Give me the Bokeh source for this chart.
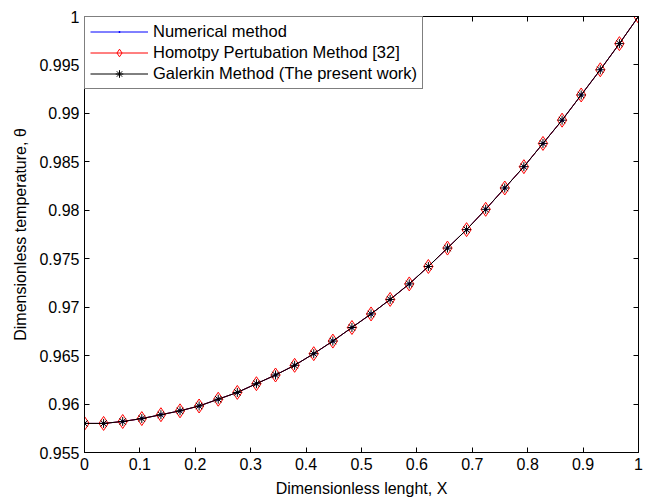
from bokeh.plotting import figure
from bokeh.models import Range1d, FixedTicker, LinearAxis, CustomJSTickFormatter
from bokeh.embed import file_html
from bokeh.resources import INLINE

# Data (x = i/29, 30 points)
x = [i / 29 for i in range(30)]
numerical = [0.9580, 0.9580, 0.9582, 0.9585, 0.9589, 0.9593, 0.9598, 0.9605, 0.9612, 0.9621,
             0.9630, 0.9640, 0.9652, 0.9665, 0.9679, 0.9693, 0.9708, 0.9724, 0.9742, 0.9761,
             0.9780, 0.9801, 0.9823, 0.9845, 0.9869, 0.9893, 0.9919, 0.9945, 0.9972, 1.0000]
hpm = [0.9580, 0.9580, 0.9582, 0.9585, 0.9589, 0.9593, 0.9598, 0.9605, 0.9612, 0.9621,
       0.9630, 0.9640, 0.9652, 0.9665, 0.9679, 0.9693, 0.9708, 0.9724, 0.9742, 0.9761,
       0.9780, 0.9801, 0.9823, 0.9845, 0.9869, 0.9893, 0.9919, 0.9945, 0.9972, 1.0000]
galerkin = [0.9580, 0.9580, 0.9582, 0.9585, 0.9589, 0.9593, 0.9598, 0.9605, 0.9612, 0.9621,
            0.9630, 0.9640, 0.9652, 0.9665, 0.9679, 0.9693, 0.9708, 0.9724, 0.9742, 0.9761,
            0.9780, 0.9801, 0.9823, 0.9845, 0.9869, 0.9893, 0.9919, 0.9945, 0.9972, 1.0000]

x_ticks = [0.0, 0.1, 0.2, 0.3, 0.4, 0.5, 0.6, 0.7, 0.8, 0.9, 1.0]
x_tick_labels = ["0", "0.1", "0.2", "0.3", "0.4", "0.5", "0.6", "0.7", "0.8", "0.9", "1"]
y_ticks = [0.955, 0.96, 0.965, 0.97, 0.975, 0.98, 0.985, 0.99, 0.995, 1.0]
y_tick_labels = ["0.955", "0.96", "0.965", "0.97", "0.975", "0.98", "0.985", "0.99", "0.995", "1"]

FONT = "Liberation Sans"
FS = "16px"

p = figure(width=645, height=499, output_backend="svg", toolbar_location=None,
           x_range=Range1d(0, 1), y_range=Range1d(0.955, 1.0),
           min_border_left=84, min_border_top=16, min_border_right=7, min_border_bottom=20)
p.background_fill_color = "white"
p.border_fill_color = "white"
p.outline_line_color = "black"
p.outline_line_width = 1
p.xgrid.visible = False
p.ygrid.visible = False

def style_axis(ax, ticks, labels=None, show_labels=True):
    ax.ticker = FixedTicker(ticks=ticks)
    ax.major_tick_in = 5
    ax.major_tick_out = 0
    ax.minor_tick_line_color = None
    ax.axis_line_color = "black"
    ax.major_tick_line_color = "black"
    ax.major_label_text_font = FONT
    ax.major_label_text_color = "black"
    if show_labels:
        ax.major_label_text_font_size = FS
        ax.major_label_standoff = 5
        ax.major_label_overrides = dict(zip(ticks, labels))
    else:
        ax.formatter = CustomJSTickFormatter(code="return '';")
        ax.major_label_text_font_size = "1px"
        ax.major_label_standoff = 0

style_axis(p.xaxis[0], x_ticks, x_tick_labels)
style_axis(p.yaxis[0], y_ticks, y_tick_labels)
p.xaxis.axis_label = "Dimensionless lenght, X"
p.yaxis.axis_label = "Dimensionless temperature, \u03b8"
for ax in (p.xaxis[0], p.yaxis[0]):
    ax.axis_label_text_font = FONT
    ax.axis_label_text_font_size = FS
    ax.axis_label_text_font_style = "normal"
    ax.axis_label_text_color = "black"
    ax.axis_label_standoff = 7

right_ax = LinearAxis()
style_axis(right_ax, y_ticks, show_labels=False)
p.add_layout(right_ax, "right")
top_ax = LinearAxis()
style_axis(top_ax, x_ticks, show_labels=False)
p.add_layout(top_ax, "above")

l1 = "Numerical method"
l2 = "Homotpy Pertubation Method [32]"
l3 = "Galerkin Method (The present work)"
p.line(x, numerical, line_color="blue", line_width=1, legend_label=l1)
p.scatter(x, numerical, marker="dot", size=14, line_color="blue", fill_color="blue",
          line_width=1.5, legend_label=l1)
p.line(x, hpm, line_color="red", line_width=1, legend_label=l2)
p.scatter(x, hpm, marker="diamond", size=14, fill_color=None,
          line_color="red", line_width=1, legend_label=l2)
p.line(x, galerkin, line_color="black", line_width=1, legend_label=l3)
p.scatter(x, galerkin, marker="asterisk", size=9, line_color="black", line_width=1, legend_label=l3)

lg = p.legend[0]
lg.location = "top_left"
lg.margin = 0
lg.padding = 5
lg.spacing = 2
lg.glyph_width = 58
lg.glyph_height = 19
lg.label_height = 19
lg.label_standoff = 5
lg.label_text_font = FONT
lg.label_text_font_size = "16.5px"
lg.label_text_color = "black"
lg.border_line_color = "black"
lg.border_line_width = 1
lg.background_fill_color = "white"
lg.background_fill_alpha = 1.0

open("out.html", "w").write(file_html(p, INLINE))
